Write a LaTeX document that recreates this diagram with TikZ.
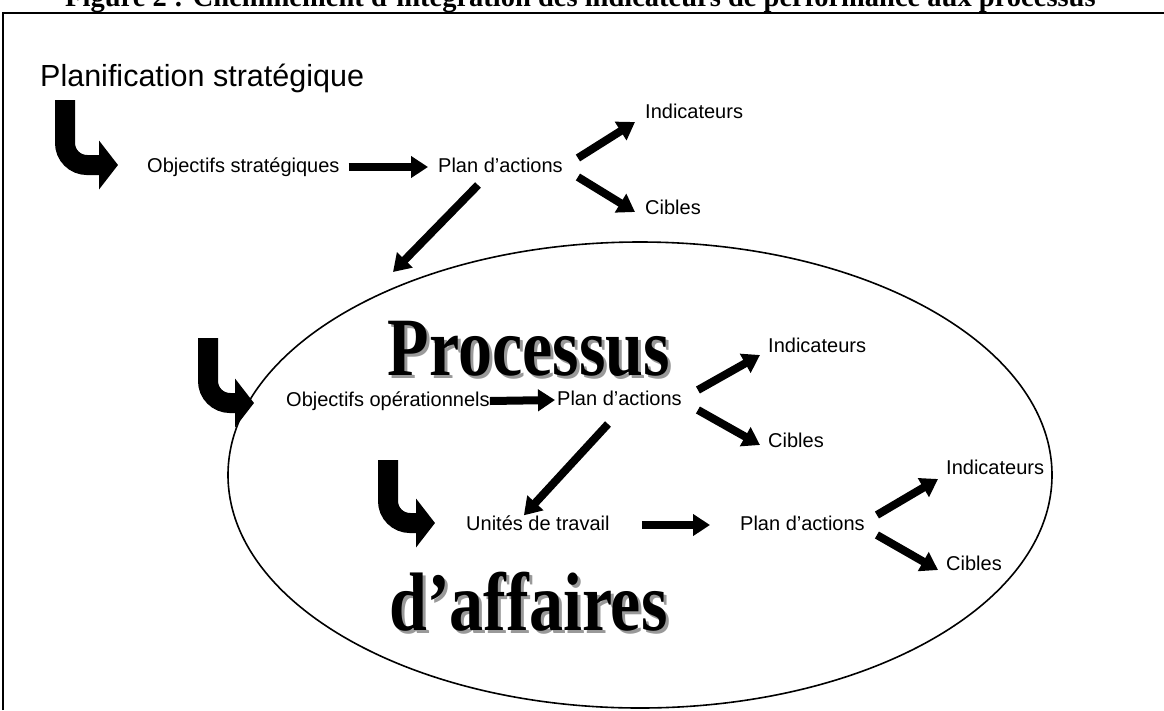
\documentclass[tikz,border=0pt]{standalone}
\usepackage{fontspec}
\usepackage{graphicx}
\setmainfont{Liberation Sans}
\newfontfamily\serifbold{Liberation Serif}
\usetikzlibrary{arrows.meta,shapes.geometric}
\newcommand{\tallword}[1]{\scalebox{1}[1.22]{#1}}
\begin{document}
\begin{tikzpicture}[x=1pt,y=-1pt,
  lbl/.style={inner sep=0pt, anchor=west, text height=15pt, text depth=4pt, font=\fontsize{20}{24}\selectfont},
  fat/.style={line width=8pt, -{Triangle[length=17pt,width=21pt]}},
  bendarrow/.style={line width=20pt, rounded corners=22pt, -{Triangle[length=19pt,width=48pt]}},
  big/.style={inner sep=0pt, anchor=base, font=\serifbold\bfseries\fontsize{68}{80}\selectfont},
  shadowcol/.style={text=black!40},
]
\useasboundingbox (0,0) rectangle (1164,710);
% title (cut by the page top)
\node[anchor=base west, inner sep=0pt, font=\serifbold\bfseries\fontsize{28.5}{32}\selectfont] (title) at (65,6) {Figure 2 : Cheminement d’intégration des indicateurs de performance aux processus};
% frame
\draw[line width=2pt] (3,710) -- (3,13) -- (1164,13);
% ellipse
\node[draw, ellipse, line width=1.6pt, minimum width=824pt, minimum height=466pt, inner sep=0pt] (ell) at (640,475) {};
\coordinate (e1) at (393,272);

% big words
\node[big, shadowcol] at (532,378) {\tallword{Processus}};
\node[big] (proc) at (529,375) {\tallword{Processus}};
\node[big, shadowcol] at (531.5,633) {\tallword{d’affaires}};
\node[big] (daff) at (528.5,630) {\tallword{d’affaires}};

% labels
\node[lbl, text height=22pt, text depth=6pt, font=\fontsize{30.5}{36}\selectfont] (plan) at (40,78) {Planification stratégique};
\node[lbl] (os) at (147,167) {Objectifs stratégiques};
\node[lbl] (pa1) at (438,167) {Plan d’actions};
\node[lbl] (in1) at (645,113) {Indicateurs};
\node[lbl] (ci1) at (645,209) {Cibles};
\node[lbl] (oo) at (286,401) {Objectifs opérationnels};
\node[lbl] (pa2) at (557,400) {Plan d’actions};
\node[lbl] (in2) at (768,347) {Indicateurs};
\node[lbl] (ci2) at (768,442) {Cibles};
\node[lbl] (ut) at (466,525) {Unités de travail};
\node[lbl] (pa3) at (740,525) {Plan d’actions};
\node[lbl] (in3) at (946,469) {Indicateurs};
\node[lbl] (ci3) at (946,565) {Cibles};

% bent arrows
\draw[bendarrow] (65,100) -- (65,165) -- (118,165);
\draw[bendarrow] (208,338) -- (208,403) -- (254,403);
\draw[bendarrow] (388,460) -- (388,523) -- (435,523);

% straight arrows
\draw[fat] ([xshift=9pt]os.east) -- ([xshift=-10pt]pa1.west);
\draw[fat] ([shift={(15,-9)}]pa1.east) -- ([shift={(-10,9)}]in1.west);
\draw[fat] ([shift={(15,10)}]pa1.east) -- ([shift={(-10,3)}]ci1.west);
\draw[fat] ([shift={(40,18)}]pa1.west) -- (e1);

\draw[fat] (oo.east) -- ([xshift=-2pt]pa2.west);
\draw[fat] ([shift={(16,-10)}]pa2.east) -- ([shift={(-8,8)}]in2.west);
\draw[fat] ([shift={(16,10)}]pa2.east) -- ([shift={(-8,3)}]ci2.west);
\draw[fat] ([shift={(51,24)}]pa2.west) -- ([shift={(-14,0)}]ut.north);

\draw[fat] ([xshift=32pt]ut.east) -- ([xshift=-30pt]pa3.west);
\draw[fat] ([shift={(12,-10)}]pa3.east) -- ([shift={(-8,10)}]in3.west);
\draw[fat] ([shift={(12,10)}]pa3.east) -- ([shift={(-8,5)}]ci3.west);
\end{tikzpicture}
\end{document}
